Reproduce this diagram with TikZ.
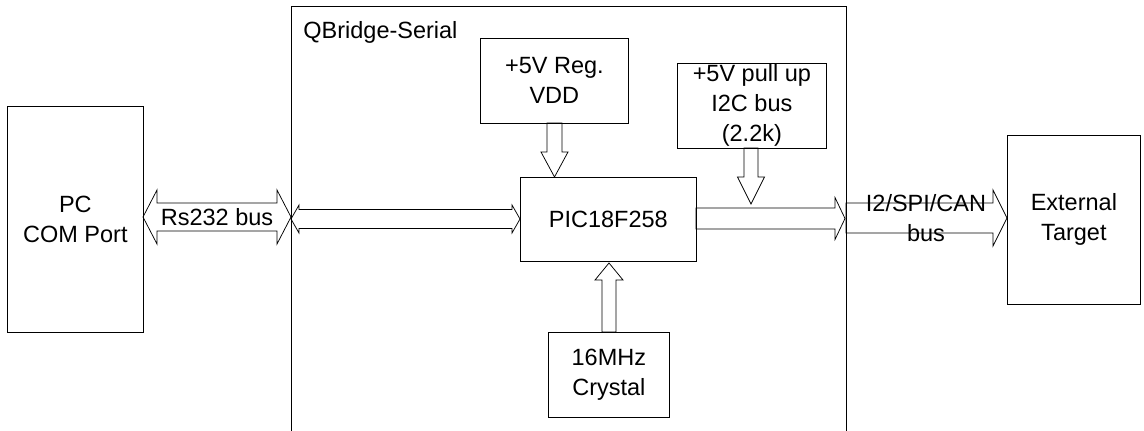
\documentclass[tikz,border=0pt]{standalone}
\usepackage{fontspec}
\setmainfont{Liberation Sans}
\newcommand\fatR[6]{% x1 x2 yc shaft head headlen
  \draw (#1,{#3-#4}) -- ({#2-#6},{#3-#4}) -- ({#2-#6},{#3-#5}) -- (#2,#3)
        -- ({#2-#6},{#3+#5}) -- ({#2-#6},{#3+#4}) -- (#1,{#3+#4}) -- cycle;}
\newcommand\fatLR[6]{%
  \draw (#1,#3) -- ({#1+#6},{#3-#5}) -- ({#1+#6},{#3-#4}) -- ({#2-#6},{#3-#4})
        -- ({#2-#6},{#3-#5}) -- (#2,#3) -- ({#2-#6},{#3+#5}) -- ({#2-#6},{#3+#4})
        -- ({#1+#6},{#3+#4}) -- ({#1+#6},{#3+#5}) -- cycle;}
\newcommand\fatV[6]{% xc y1 y2 shaft head headlen (signed: positive = down)
  \draw ({#1-#4},#2) -- ({#1-#4},{#3-#6}) -- ({#1-#5},{#3-#6}) -- (#1,#3)
        -- ({#1+#5},{#3-#6}) -- ({#1+#4},{#3-#6}) -- ({#1+#4},#2) -- cycle;}
\begin{document}
\begin{tikzpicture}[x=1pt,y=-1pt,line width=0.75pt,
  box/.style={draw,inner sep=0pt,align=center,anchor=north west,
    font=\fontsize{23.5}{30}\selectfont},
  lbl/.style={inner sep=0pt,align=center,font=\fontsize{23.5}{30}\selectfont}]
\useasboundingbox (0,0) rectangle (1144,431);
% QBridge enclosure
\draw (291,431) -- (291,6) -- (846,6) -- (846,431);
\node[lbl,anchor=base west] (title) at (303,38) {QBridge-Serial};
% boxes
\node[box,minimum width=136pt,minimum height=226pt] (pc) at (7,106) {PC\\COM Port};
\node[box,minimum width=148pt,minimum height=85pt] (reg) at (480,38) {+5V Reg.\\VDD};
\node[box,minimum width=149pt,minimum height=85pt] (pull) at (677,63) {};
\node[lbl] (pulltxt) at (pull.center) {+5V pull up\\I2C bus\\(2.2k)};
\node[box,minimum width=176pt,minimum height=84pt] (pic) at (520,177) {PIC18F258};
\node[box,minimum width=121pt,minimum height=85pt] (xtal) at (548,332) {16MHz\\Crystal};
\node[box,minimum width=133pt,minimum height=169pt] (ext) at (1007,135) {External\\Target};
% labels
\node[lbl] (rs) at (217,217) {Rs232 bus};
\node[lbl] (bus1) at (926,203) {I2/SPI/CAN};
\node[lbl] (bus2) at (926,233) {bus};
% fat arrows
\fatLR{143}{291}{217}{14}{27}{14}
\fatLR{291}{520}{219}{9.5}{14}{8}
\fatR{696}{845}{218.5}{10.5}{21}{10}
\fatR{846}{1007}{218}{15}{28}{14}
\fatV{554.5}{123}{177}{7.5}{13.5}{25}
\fatV{751}{148}{204}{7}{13.5}{27}
\fatV{609}{332}{263}{7}{14}{-17}
\end{tikzpicture}
\end{document}
